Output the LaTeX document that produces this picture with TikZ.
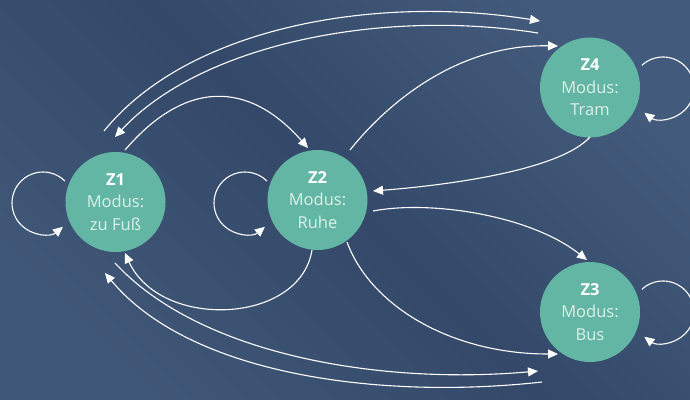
\documentclass[tikz,border=0pt]{standalone}
\usepackage{fontspec}
\setmainfont{Open Sans}
\usetikzlibrary{arrows.meta}
\definecolor{bgA}{HTML}{425A7B}
\definecolor{bgB}{HTML}{34496A}
\definecolor{teal}{HTML}{63B6A4}
\definecolor{txt}{HTML}{DDF0EA}
\tikzset{
  state/.style={circle, fill=teal, minimum size=100pt, inner sep=0pt, align=center,
    font=\fontsize{16.5}{22.5}\selectfont, text=txt},
  conn/.style={draw=white, line width=1.1pt, -{Triangle[length=10pt,width=9pt]}},
}
\newcommand{\stt}[2]{{\bfseries\color{white}#1}\\Modus:\\#2}
\begin{document}
\begin{tikzpicture}[x=1pt,y=-1pt]
\useasboundingbox (0,0) rectangle (690,399);
\shade[top color=bgA, bottom color=bgA!80!bgB, middle color=bgB, shading angle=-45] (0,0) rectangle (690,399);
\clip (0,0) rectangle (690,399);

\node[state] (z1) at (115.5,202) {\stt{Z1}{zu Fuß}};
\node[state] (z2) at (317.5,200) {\stt{Z2}{Ruhe}};
\node[state] (z4) at (590,87.5) {\stt{Z4}{Tram}};
\node[state] (z3) at (590,312) {\stt{Z3}{Bus}};

% free ends
\coordinate (a1s) at (104,131);  \coordinate (a1e) at (540,21);
\coordinate (a2s) at (538,33);   \coordinate (a2e) at (115,137);
\coordinate (a3s) at (125,150);  \coordinate (a3e) at (308,148);
\coordinate (a4s) at (350,150);  \coordinate (a4e) at (558,46);
\coordinate (a5s) at (590,137);  \coordinate (a5e) at (373,191);
\coordinate (a6s) at (373,211);  \coordinate (a6e) at (587,260);
\coordinate (a7s) at (347,242);  \coordinate (a7e) at (558,354);
\coordinate (a8s) at (312,250);  \coordinate (a8e) at (125,253);
\coordinate (a9s) at (115,263);  \coordinate (a9e) at (538,371);
\coordinate (a10s) at (542,382); \coordinate (a10e) at (105,273);

\draw[conn] (a1s) .. controls (190,25) and (380,-5) .. (a1e);
\draw[conn] (a2s) .. controls (380,8) and (200,45) .. (a2e);
\draw[conn] (a3s) .. controls (185,80) and (248,80) .. (a3e);
\draw[conn] (a4s) .. controls (390,100) and (460,44) .. (a4e);
\draw[conn] (a5s) .. controls (560,170) and (450,185) .. (a5e);
\draw[conn] (a6s) .. controls (430,200) and (530,215) .. (a6e);
\draw[conn] (a7s) .. controls (370,305) and (450,354) .. (a7e);
\draw[conn] (a8s) .. controls (300,325) and (160,330) .. (a8e);
\draw[conn] (a9s) .. controls (200,355) and (380,385) .. (a9e);
\draw[conn] (a10s) .. controls (380,400) and (190,375) .. (a10e);

% self loops
\coordinate (l1) at ([shift={(-45:31)}]43,203);
\coordinate (l2) at ([shift={(-45:31)}]245,203);
\coordinate (l4) at ([shift={(-133:31)}]663,88);
\coordinate (l3) at ([shift={(-133:31)}]663,312);
\draw[conn] (l1) arc[start angle=-45, end angle=-310, radius=31];
\draw[conn] (l2) arc[start angle=-45, end angle=-310, radius=31];
\draw[conn] (l4) arc[start angle=-133, end angle=127, radius=31];
\draw[conn] (l3) arc[start angle=-133, end angle=127, radius=31];
\end{tikzpicture}
\end{document}
